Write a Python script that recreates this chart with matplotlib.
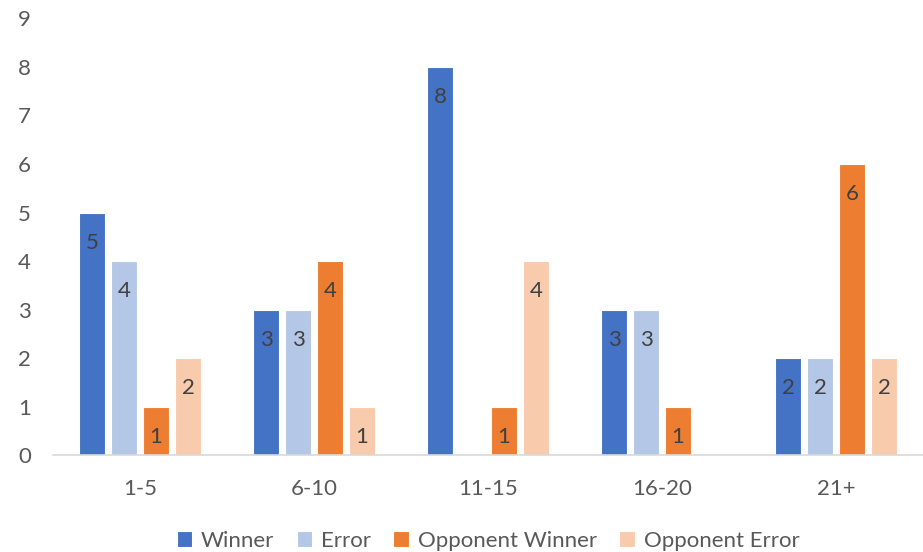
import numpy as np
import matplotlib.pyplot as plt

# Rally length buckets and the count of points ended each way
categories = ["1-5", "6-10", "11-15", "16-20", "21+"]
series_names = ["Winner", "Error", "Opponent Winner", "Opponent Error"]
winner = [5, 3, 8, 3, 2]
error = [4, 3, 0, 3, 2]
opp_winner = [1, 4, 1, 1, 6]
opp_error = [2, 1, 4, 0, 2]
yticks = list(range(0, 10))

colors = ["#4472C4", "#B4C7E7", "#ED7D31", "#F8CBAD"]
text_col = "#595959"

plt.rcParams["font.family"] = ["Lato", "DejaVu Sans"]

fig = plt.figure(figsize=(9.23, 5.52), dpi=100)
ax = fig.add_axes([0.0574, 0.1757, 0.9426, 0.7908])

x = np.arange(len(categories))
bar_w = 0.149
step = 0.184
all_vals = [winner, error, opp_winner, opp_error]

for i, (name, vals, col) in enumerate(zip(series_names, all_vals, colors)):
    pos = x + (i - 1.5) * step
    bars = ax.bar(pos, vals, width=bar_w, color=col, edgecolor="white",
                  linewidth=0.8, label=name, zorder=2)
    labels = [str(v) if v > 0 else "" for v in vals]
    ax.bar_label(bars, labels=labels, label_type="edge", padding=-29,
                 fontsize=16, color="#404040")

ax.set_xlim(-0.5, len(categories) - 0.5)
ax.set_ylim(0, 9)
ax.set_yticks(yticks)
ax.set_xticks(x)
ax.set_xticklabels(categories)
ax.tick_params(axis="both", length=0, labelsize=16, labelcolor=text_col)
ax.tick_params(axis="x", pad=17)
ax.tick_params(axis="y", pad=16)

for side in ["top", "right", "left"]:
    ax.spines[side].set_visible(False)
ax.spines["bottom"].set_color("#D9D9D9")
ax.spines["bottom"].set_linewidth(1.2)

handles, names = ax.get_legend_handles_labels()
fig.legend(handles, names, loc="center", bbox_to_anchor=(0.5287, 0.02),
           ncol=4, frameon=False, fontsize=16, labelcolor=text_col,
           handlelength=0.7, handleheight=0.7, handletextpad=0.4,
           columnspacing=1.0)

fig.savefig("out.png", dpi=100)
